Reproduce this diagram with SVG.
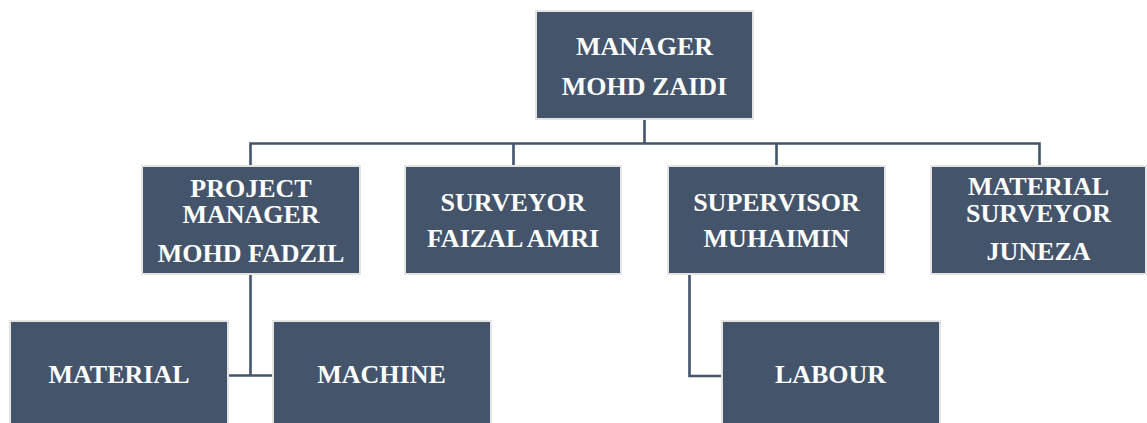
<svg xmlns="http://www.w3.org/2000/svg" width="1147" height="423" viewBox="0 0 1147 423">
<style>
.box{fill:#44546A;stroke:#E4E4E4;stroke-width:2}
.t{font-family:"Liberation Serif","Times New Roman",serif;font-weight:bold;font-size:26px;fill:#FFFFFF;text-anchor:middle}
.c{fill:none;stroke:#44546A;stroke-width:2.6}
</style>
<rect width="1147" height="423" fill="#FFFFFF"/>
<g id="connectors">
<path class="c" d="M644.5 120 V143.5 M250.5 165 V143.5 H1039.5 V165 M513.5 143.5 V165 M776.5 143.5 V165"/>
<path class="c" d="M250.5 274 V375.5 M229 375.5 H272"/>
<path class="c" d="M689.5 274 V376 H721"/>
</g>
<g id="manager">
<rect class="box" x="536" y="11" width="217" height="108"/>
<text class="t" x="644.5" y="55">MANAGER</text>
<text class="t" x="644.5" y="95">MOHD ZAIDI</text>
</g>
<g id="project-manager">
<rect class="box" x="142" y="166" width="218" height="108"/>
<text class="t" x="251" y="197">PROJECT</text>
<text class="t" x="251" y="223">MANAGER</text>
<text class="t" x="251" y="262">MOHD FADZIL</text>
</g>
<g id="surveyor">
<rect class="box" x="405" y="166" width="216" height="108"/>
<text class="t" x="513" y="211">SURVEYOR</text>
<text class="t" x="513" y="247">FAIZAL AMRI</text>
</g>
<g id="supervisor">
<rect class="box" x="668" y="166" width="217" height="108"/>
<text class="t" x="776.5" y="211">SUPERVISOR</text>
<text class="t" x="776.5" y="247">MUHAIMIN</text>
</g>
<g id="material-surveyor">
<rect class="box" x="931" y="166" width="215" height="108"/>
<text class="t" x="1038.5" y="195">MATERIAL</text>
<text class="t" x="1038.5" y="222">SURVEYOR</text>
<text class="t" x="1038.5" y="260">JUNEZA</text>
</g>
<g id="material">
<rect class="box" x="10" y="321" width="218" height="110"/>
<text class="t" x="119" y="383">MATERIAL</text>
</g>
<g id="machine">
<rect class="box" x="273" y="321" width="218" height="110"/>
<text class="t" x="381.5" y="383">MACHINE</text>
</g>
<g id="labour">
<rect class="box" x="722" y="321" width="218" height="110"/>
<text class="t" x="830.5" y="383">LABOUR</text>
</g>
</svg>
